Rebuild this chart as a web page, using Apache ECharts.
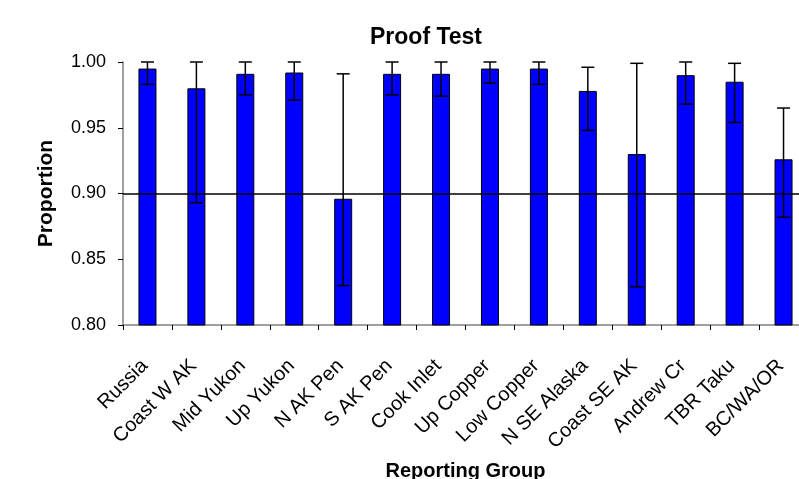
<!DOCTYPE html>
<html>
<head>
<meta charset="utf-8">
<script src="https://cdn.jsdelivr.net/npm/echarts@6/dist/echarts.min.js"></script>
<style>
  html, body { margin: 0; padding: 0; background: #fff; overflow: hidden; }
  #chart { width: 799px; height: 479px; }
</style>
</head>
<body>
<div id="chart"></div>
<script>
  // reporting groups along the x axis
  const groups = ['Russia', 'Coast W AK', 'Mid Yukon', 'Up Yukon', 'N AK Pen', 'S AK Pen', 'Cook Inlet',
    'Up Copper', 'Low Copper', 'N SE Alaska', 'Coast SE AK', 'Andrew Cr', 'TBR Taku', 'BC/WA/OR']
  // mean proportion per group
  const proportion = [0.995, 0.980, 0.991, 0.992, 0.896, 0.991, 0.991, 0.995, 0.995, 0.978, 0.930, 0.990, 0.985, 0.926]
  // error bar limits
  const upper = [1.000, 1.000, 1.000, 1.000, 0.991, 1.000, 1.000, 1.000, 1.000, 0.996, 0.999, 1.000, 0.999, 0.965]
  const lower = [0.983, 0.893, 0.975, 0.971, 0.830, 0.975, 0.974, 0.984, 0.983, 0.948, 0.829, 0.968, 0.954, 0.882]
  const yTicks = [0.80, 0.85, 0.90, 0.95, 1.00]
  const refLine = 0.90

  const font = 'Liberation Sans, Arial, sans-serif'
  const errData = groups.map((g, i) => [i, upper[i], lower[i]])

  const chart = echarts.init(document.getElementById('chart'))
  chart.setOption({
    animation: false,
    backgroundColor: '#fff',
    title: {
      text: 'Proof Test',
      left: 365,
      top: 21,
      textStyle: { fontFamily: font, fontSize: 23, fontWeight: 'bold', color: '#000' }
    },
    grid: { left: 123, top: 62, right: -9, bottom: 154, containLabel: false, outerBoundsMode: 'none' },
    xAxis: {
      type: 'category',
      data: groups,
      name: 'Reporting Group',
      nameLocation: 'middle',
      nameGap: 136,
      nameTextStyle: { fontFamily: font, fontSize: 20, fontWeight: 'bold', color: '#000' },
      axisLine: { lineStyle: { color: '#808080', width: 1.5 } },
      axisTick: { show: true, alignWithLabel: false, length: 5, lineStyle: { color: '#000' } },
      axisLabel: {
        rotate: 45, margin: 35, padding: [0, 4, 0, 0],
        fontFamily: font, fontSize: 20, color: '#000', interval: 0
      }
    },
    yAxis: {
      type: 'value',
      min: yTicks[0],
      max: yTicks[yTicks.length - 1],
      interval: 0.05,
      name: 'Proportion',
      nameLocation: 'middle',
      nameGap: 66,
      nameTextStyle: { fontFamily: font, fontSize: 21, fontWeight: 'bold', color: '#000' },
      splitLine: { show: false },
      axisLine: { show: true, lineStyle: { color: '#808080', width: 1.5 } },
      axisTick: { show: true, length: 5, lineStyle: { color: '#000' } },
      axisLabel: { margin: 17, fontFamily: font, fontSize: 18, color: '#000', formatter: v => v.toFixed(2) }
    },
    series: [{
      type: 'bar',
      data: proportion,
      barWidth: 18,
      itemStyle: { color: '#0000ff', borderColor: '#000', borderWidth: 1 },
      markLine: {
        silent: true,
        symbol: 'none',
        label: { show: false },
        lineStyle: { color: '#000', type: 'solid', width: 1.5 },
        data: [{ yAxis: refLine }]
      }
    }, {
      type: 'custom',
      data: errData,
      encode: { x: 0, y: [1, 2] },
      z: 5,
      renderItem: (params, api) => {
        const x = api.value(0)
        const hi = api.coord([x, api.value(1)])
        const lo = api.coord([x, api.value(2)])
        const w = 6.5
        const style = { stroke: '#000', lineWidth: 1.5 }
        return {
          type: 'group',
          children: [
            { type: 'line', shape: { x1: hi[0], y1: hi[1], x2: lo[0], y2: lo[1] }, style },
            { type: 'line', shape: { x1: hi[0] - w, y1: hi[1], x2: hi[0] + w, y2: hi[1] }, style },
            { type: 'line', shape: { x1: lo[0] - w, y1: lo[1], x2: lo[0] + w, y2: lo[1] }, style }
          ]
        }
      }
    }]
  })
</script>
</body>
</html>
